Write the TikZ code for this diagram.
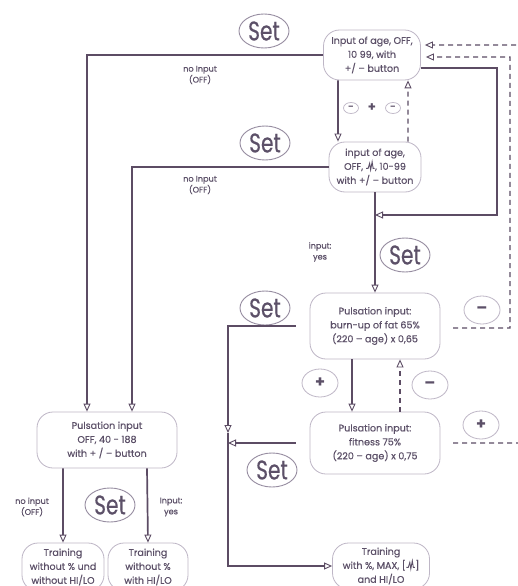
\documentclass[tikz,border=0pt]{standalone}
\usepackage{fontspec}
\usepackage{graphicx}
\setmainfont{Poppins}
\newfontfamily\heavyfont{Poppins}[FakeBold=0.5,Ligatures=TeX]
\usetikzlibrary{arrows.meta,shapes.geometric,calc}
\definecolor{ln}{RGB}{92,76,100}
\definecolor{tx}{RGB}{92,80,104}
\definecolor{bd}{RGB}{190,182,198}
\definecolor{sbd}{RGB}{150,140,160}
\newcommand{\pulseicon}{\tikz[baseline=0bp,x=1bp,y=1bp,sharp corners]\draw[tx,line width=0.9bp,sharp corners] (0,1.5)--(2,1.5)--(3.5,6.5)--(4.5,0)--(6,8)--(7,1.5)--(8.5,1.5);}
\begin{document}
\begin{tikzpicture}[x=1bp,y=-1bp,
  conn/.style={draw=ln,line width=1.7bp},
  dconn/.style={draw=ln,line width=1.1bp,dash pattern=on 5bp off 4bp},
  tip/.style={-{Triangle[open,length=8bp,width=7bp,line width=0.9bp]}},
  box/.style={draw=bd,line width=0.8bp,rounded corners=16bp,align=center,text=tx,
    font=\heavyfont\fontsize{9.6}{14}\selectfont,inner sep=1bp},
  setbtn/.style={ellipse,draw=sbd,line width=0.9bp,minimum width=50bp,minimum height=34bp,
    inner sep=0pt,text=tx,font=\heavyfont\fontsize{27}{27}\selectfont},
  pmbtn/.style={ellipse,draw=bd,line width=0.8bp,minimum width=36bp,minimum height=28bp,
    inner sep=0pt,text=tx,font=\fontsize{16}{16}\selectfont\bfseries},
  keybtn/.style={ellipse,draw=bd,line width=0.7bp,minimum width=15bp,minimum height=11bp,
    inner sep=0pt,text=tx,font=\fontsize{8}{8}\selectfont\bfseries},
  lbl/.style={align=center,text=tx,font=\heavyfont\fontsize{8.2}{11}\selectfont,inner sep=0pt}
]
\useasboundingbox (0,0) rectangle (518,586);
\clip (0,0) rectangle (518,586);
\fill[white] (0,0) rectangle (518,586);

% main nodes
\node[box,minimum width=97bp,minimum height=50bp] (A) at (372,55)
  {Input of age, OFF,\\10 99, with\\+/ – button};
\node[box,minimum width=92bp,minimum height=50bp] (B) at (375,167)
  {input of age,\\OFF, \pulseicon, 10-99\\with +/ – button};
\node[box,minimum width=130bp,minimum height=66bp] (BU) at (375,326)
  {Pulsation input:\\burn-up of fat 65\%\\(220 – age) x 0,65};
\node[box,minimum width=130bp,minimum height=62bp] (FI) at (375,443)
  {Pulsation input:\\fitness 75\%\\(220 – age) x 0,75};
\node[box,minimum width=140bp,minimum height=56bp] (PL) at (107,440)
  {Pulsation input\\OFF, 40 - 188\\with + / – button};
\node[box,minimum width=82bp,minimum height=48bp] (T1) at (63,567)
  {Training\\without \% und\\without HI/LO};
\node[box,minimum width=80bp,minimum height=48bp] (T2) at (148,567)
  {Training\\without \%\\with HI/LO};
\node[box,minimum width=97bp,minimum height=46bp] (T3) at (381,566)
  {Training\\with \%, MAX, [\pulseicon]\\and HI/LO};

% Set buttons
\node[setbtn] (S1) at (264,31) {\scalebox{0.75}[1]{Set}};
\node[setbtn] (S2) at (265,143) {\scalebox{0.75}[1]{Set}};
\node[setbtn] (S3) at (405,255) {\scalebox{0.75}[1]{Set}};
\node[setbtn] (S4) at (265,308) {\scalebox{0.75}[1]{Set}};
\node[setbtn] (S5) at (272,470) {\scalebox{0.75}[1]{Set}};
\node[setbtn] (S6) at (110,505) {\scalebox{0.75}[1]{Set}};

% +/- buttons
\node[pmbtn] (M1) at (482,310) {–};
\node[pmbtn] (P1) at (320,383) {+};
\node[pmbtn] (M2) at (430,385) {–};
\node[pmbtn] (P2) at (481,425) {+};

% both keys
\node[keybtn] (K1) at (351,108) {–};
\node[text=tx,font=\fontsize{13}{13}\selectfont\bfseries,inner sep=0pt] (KP) at (372,108) {+};
\node[keybtn] (K2) at (393,108) {–};

% labels
\node[lbl] (L1) at (200,75) {no Input\\(OFF)};
\node[lbl] (L2) at (200,185) {no Input\\(OFF)};
\node[lbl] (L3) at (320,252) {input:\\yes};
\node[lbl] (L4) at (32,507) {no input\\(OFF)};
\node[lbl] (L5) at (171,507) {Input:\\yes};

% coordinates
\coordinate (jB) at (375,215);
\coordinate (jL) at (228,443);
\coordinate (d1) at (453,328);
\coordinate (d2) at (453,443);

% connectors
\draw[conn,tip] (A.west) -| ([xshift=-20bp]PL.north);
\draw[conn,tip] (B.west) -| ([xshift=25bp]PL.north);
\draw[conn,tip] ([xshift=-34bp]A.south) -- ([xshift=-37bp]B.north);
\draw[dconn,tip] ([xshift=33bp]B.north) -- ([xshift=36bp]A.south);
\draw[conn,tip] ([yshift=-13bp]A.east) -| ($(jB)+(122,0)$) -- (jB);
\draw[conn,tip] (B.south) -- (BU.north);
\draw[dconn,tip,shorten >=5bp] (d1) -- (510,328) -- (510,57) -- ([yshift=-2bp]A.east);
\draw[dconn,tip,shorten >=4bp] (d2) -- (524,443) -- (524,45) -- ([yshift=10bp]A.east);
\draw[conn,tip] ([xshift=-23bp]BU.south) -- ([xshift=-23bp]FI.north);
\draw[dconn,tip] ([xshift=25bp]FI.north) -- ([xshift=25bp]BU.south);
\draw[conn,tip,shorten <=14bp] (BU.west) -| ([yshift=10bp]jL);
\draw[conn,tip] ([yshift=10bp]jL) |- (T3.west);
\draw[conn,tip,shorten <=14bp] (FI.west) -- (jL);
\draw[conn,tip] ([xshift=-44bp]PL.south) -- (T1.north);
\draw[conn,tip] ([xshift=40bp]PL.south) -- (T2.north);
\end{tikzpicture}
\end{document}
